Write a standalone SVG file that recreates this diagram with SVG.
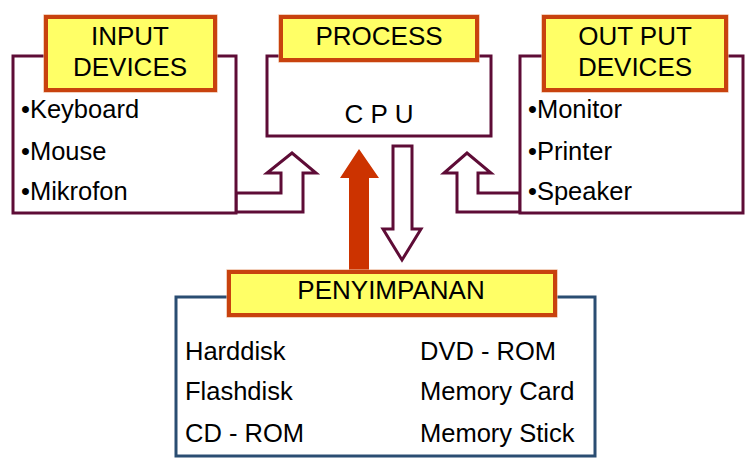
<svg xmlns="http://www.w3.org/2000/svg" width="746" height="464" viewBox="0 0 746 464">
<style>
.box{fill:#fff;stroke:#5e0c36;stroke-width:3}
.sbox{fill:#fff;stroke:#2a4d72;stroke-width:3}
.lbl{fill:#ffff66;stroke:#c8420e;stroke-width:4}
.lblo{fill:none;stroke:#eab08f;stroke-width:1.2}
.t{font-family:"Liberation Sans",Arial,sans-serif;font-size:26px;fill:#000}
.c{text-anchor:middle}
.i{font-size:25.5px}
.arr{fill:#fff;stroke:#5e0c36;stroke-width:3;stroke-linejoin:miter}
</style>
<rect width="746" height="464" fill="#fff"/>
<g id="connectors">
<polygon class="arr" points="236,193 281,193 281,173 267,173 292,153 316,173 303,173 303,212 236,212"/>
<polygon class="arr" points="520,193 478,193 478,173 491,173 467,153 444,173 457,173 457,212 520,212"/>
<polygon fill="#cc3300" points="349,270 349,178 340,178 359,149 379,178 369,178 369,270"/>
<polygon class="arr" points="393,146 412,146 412,229 421,229 402,260 383,229 393,229"/>
</g>
<g id="input">
<rect class="box" x="13" y="56" width="223" height="157"/>
<rect class="lblo" x="44" y="15" width="173" height="77"/>
<rect class="lbl" x="46" y="17" width="169" height="73"/>
<text class="t c" x="130" y="45">INPUT</text>
<text class="t c" x="130" y="76">DEVICES</text>
<text class="t i" x="21" y="118">•Keyboard</text>
<text class="t i" x="21" y="160">•Mouse</text>
<text class="t i" x="21" y="200">•Mikrofon</text>
</g>
<g id="process">
<rect class="box" x="267" y="56" width="224" height="80"/>
<rect class="lblo" x="279" y="15" width="200" height="47"/>
<rect class="lbl" x="281" y="17" width="196" height="43"/>
<text class="t c" x="379" y="45">PROCESS</text>
<text class="t c" x="379" y="123">C P U</text>
</g>
<g id="output">
<rect class="box" x="520" y="56" width="223" height="157"/>
<rect class="lblo" x="542" y="15" width="186" height="77"/>
<rect class="lbl" x="544" y="17" width="182" height="73"/>
<text class="t c" x="635" y="45">OUT PUT</text>
<text class="t c" x="635" y="76">DEVICES</text>
<text class="t i" x="528" y="118">•Monitor</text>
<text class="t i" x="528" y="160">•Printer</text>
<text class="t i" x="528" y="200">•Speaker</text>
</g>
<g id="storage">
<rect class="sbox" x="176" y="297" width="419" height="159"/>
<rect class="lblo" x="227" y="270" width="330" height="47"/>
<rect class="lbl" x="229" y="272" width="326" height="43"/>
<text class="t c" x="391" y="299">PENYIMPANAN</text>
<text class="t i" x="185" y="360">Harddisk</text>
<text class="t i" x="185" y="400">Flashdisk</text>
<text class="t i" x="185" y="442">CD - ROM</text>
<text class="t i" x="420" y="360">DVD - ROM</text>
<text class="t i" x="420" y="400">Memory Card</text>
<text class="t i" x="420" y="442">Memory Stick</text>
</g>
</svg>
